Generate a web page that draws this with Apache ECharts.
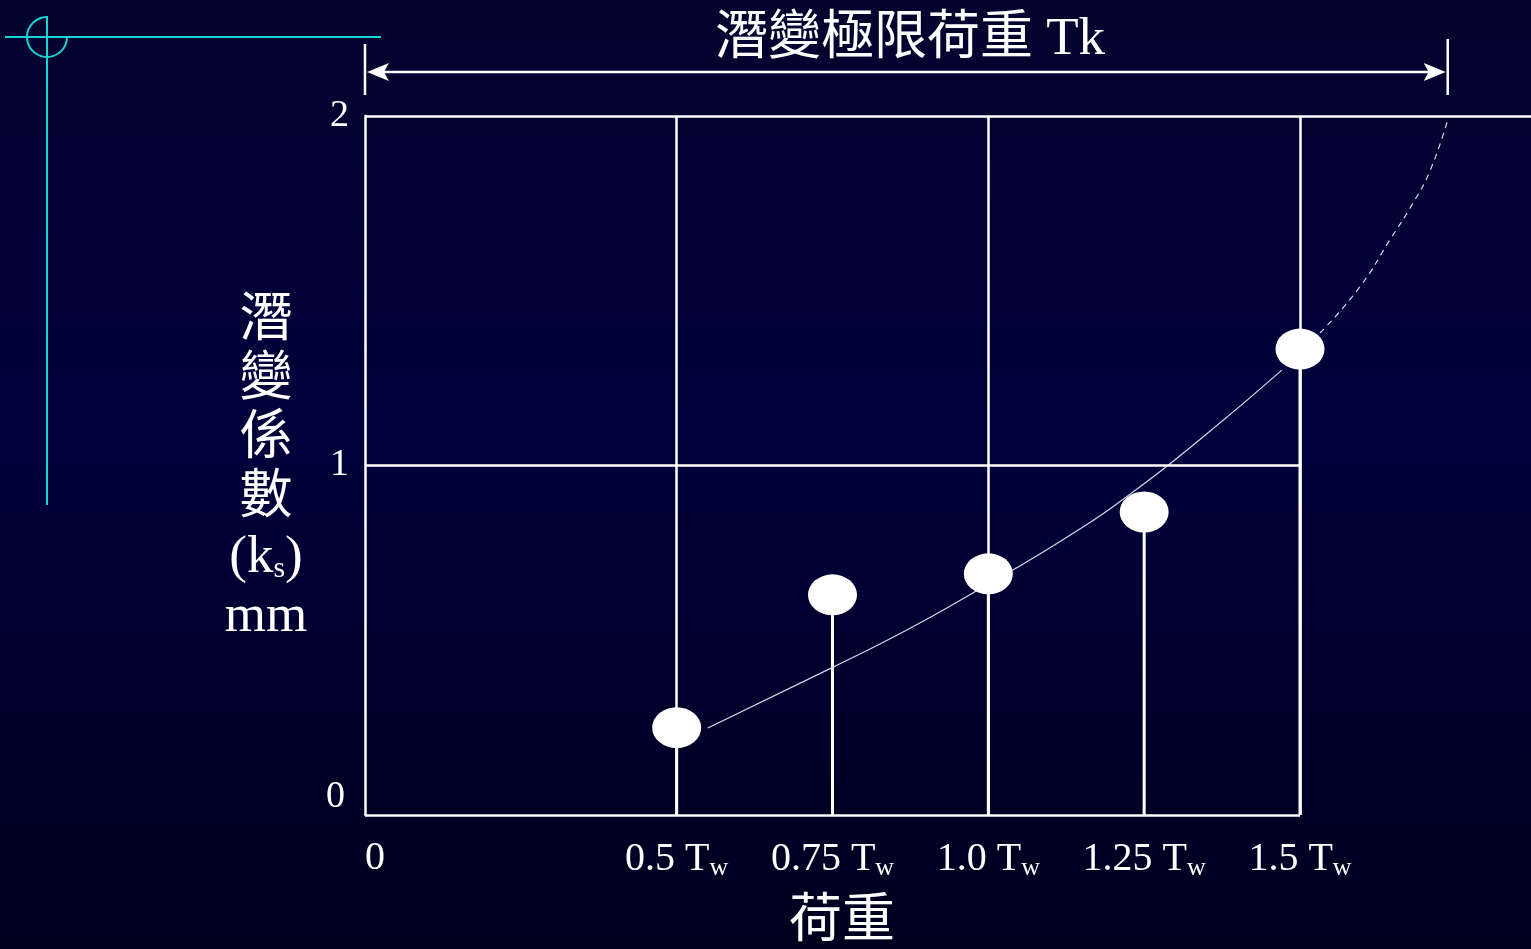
<!DOCTYPE html>
<html>
<head>
<meta charset="utf-8">
<style>
  html, body { margin: 0; padding: 0; }
  #main { width: 1531px; height: 949px; }
</style>
<script src="https://cdn.jsdelivr.net/npm/echarts@6/dist/echarts.min.js"></script>
</head>
<body>
<div id="main"></div>
<script>
// 荷重 (x Tw) 與 潛變係數 ks (mm)
var loads = [0.5, 0.75, 1.0, 1.25, 1.5];
var ks = [0.25, 0.63, 0.69, 0.867, 1.333];

// 趨勢曲線 (實線部分)
var curveSolid = [[0.55, 0.249], [0.751, 0.423], [0.87, 0.53], [0.975, 0.635], [1.126, 0.795],
  [1.232, 0.924], [1.34, 1.075], [1.471, 1.273]];
// 外插部分 (虛線)
var curveDashed = [[1.532, 1.379], [1.596, 1.511], [1.644, 1.645], [1.681, 1.75], [1.709, 1.845], [1.737, 1.989]];
// 潛變極限荷重 Tk
var tkLoad = 1.737;

var xTickVals = [0, 0.5, 0.75, 1.0, 1.25, 1.5];
var xTickText = ['0', '0.5', '0.75', '1.0', '1.25', '1.5'];
var yGridVals = [1, 2];

var SERIF = '"Liberation Serif", "Times New Roman", "Noto Sans CJK TC", serif';

// 格線區右端 (1.5 Tw) 在 1300px，畫布延伸到 1531px
var xMax = 1.5 * (1531 - 365) / (1300 - 365);
var xEnd = xTickVals[xTickVals.length - 1];

var myChart = echarts.init(document.getElementById('main'));

var white = { color: '#fff', width: 2.5, type: 'solid' };

var option = {
  backgroundColor: new echarts.graphic.LinearGradient(0, 0, 0, 1, [
    { offset: 0, color: '#04042e' },
    { offset: 0.45, color: '#00003c' },
    { offset: 1, color: '#00001e' }
  ]),
  animation: false,
  title: [
    {
      text: '潛變極限荷重 Tk',
      left: 905,
      top: 9,
      textAlign: 'center',
      textStyle: { color: '#fff', fontSize: 53, fontWeight: 'normal', fontFamily: SERIF }
    },
    {
      text: '潛\n變\n係\n數\n(k{s|s})\nmm',
      left: 261,
      top: 288,
      textAlign: 'center',
      textStyle: {
        color: '#fff', fontSize: 53, fontWeight: 'normal', fontFamily: SERIF, lineHeight: 59,
        rich: {
          s: { color: '#fff', fontSize: 30, fontFamily: SERIF, padding: [22, 0, 0, 0] }
        }
      }
    }
  ],
  grid: { left: 365, right: 0, top: 116, bottom: 134, outerBoundsMode: 'none', containLabel: false },
  xAxis: {
    type: 'value',
    min: 0,
    max: xMax,
    interval: 0.25,
    name: '荷重',
    nameLocation: 'middle',
    nameGap: 82,
    nameTextStyle: { color: '#fff', fontSize: 53, fontFamily: SERIF, padding: [0, 212, 0, 0] },
    axisLine: { show: false },
    axisTick: { show: false },
    splitLine: { show: false },
    axisLabel: {
      margin: 22,
      showMaxLabel: false,
      formatter: function (v) {
        var i = xTickVals.findIndex(function (t) { return Math.abs(t - v) < 1e-6; });
        if (i < 0) return '';
        if (i === 0) return '{z|' + xTickText[i] + '}';
        return '{n|' + xTickText[i] + ' T}{s|w}';
      },
      rich: {
        z: { color: '#fff', fontSize: 40, fontFamily: SERIF, lineHeight: 42, padding: [0, 0, 0, 20] },
        n: { color: '#fff', fontSize: 40, fontFamily: SERIF, lineHeight: 42 },
        s: { color: '#fff', fontSize: 26, fontFamily: SERIF, padding: [18, 0, 0, 0] }
      }
    }
  },
  yAxis: {
    type: 'value',
    min: 0,
    max: 2,
    interval: 1,
    axisLine: { show: true, lineStyle: white },
    axisTick: { show: false },
    splitLine: { show: false },
    axisLabel: {
      margin: 16,
      formatter: function (v) {
        return v === 0 ? '{z|0}' : '{n|' + v + '}';
      },
      rich: {
        n: { color: '#fff', fontSize: 38, fontFamily: SERIF },
        z: { color: '#fff', fontSize: 38, fontFamily: SERIF, padding: [0, 4, 36, 0] }
      }
    }
  },
  series: [
    {
      // 垂直線 (stems)
      type: 'bar',
      data: loads.map(function (x, i) { return [x, ks[i]]; }),
      barWidth: 3,
      itemStyle: { color: '#fff' },
      z: 2,
      markLine: {
        silent: true,
        symbol: ['none', 'none'],
        label: { show: false },
        lineStyle: white,
        data: [
          // 底線 與 水平格線
          [{ coord: [0, 0] }, { coord: [xEnd, 0] }],
          [{ coord: [0, yGridVals[0]] }, { coord: [xEnd, yGridVals[0]] }],
          { yAxis: yGridVals[1] },
          // 垂直格線
          { xAxis: 0.5 }, { xAxis: 1.0 }, { xAxis: xEnd }
        ]
      }
    },
    {
      type: 'line',
      data: curveSolid,
      smooth: true,
      showSymbol: false,
      lineStyle: { color: '#d8d8e8', width: 1.2 },
      z: 3
    },
    {
      type: 'line',
      data: curveDashed,
      smooth: true,
      showSymbol: false,
      lineStyle: { color: '#d8d8e8', width: 1.2, type: [6, 5] },
      z: 3
    },
    {
      type: 'scatter',
      data: loads.map(function (x, i) { return [x, ks[i]]; }),
      symbol: 'circle',
      symbolSize: [49, 41],
      itemStyle: { color: '#fff', opacity: 1 },
      z: 5
    }
  ]
};
myChart.setOption(option);

// 註記: Tk 箭頭、投影片標記
var pO = myChart.convertToPixel({ gridIndex: 0 }, [0, 2]);
var pTk = myChart.convertToPixel({ gridIndex: 0 }, [tkLoad, 2]);
var ay = pO[1] - 44;
var wl = { stroke: '#fff', lineWidth: 2.5 };
var cyan = { stroke: '#1ad4d4', lineWidth: 2 };

myChart.setOption({
  graphic: [
    { type: 'line', shape: { x1: pO[0], y1: ay - 28, x2: pO[0], y2: ay + 23 }, style: wl },
    { type: 'line', shape: { x1: pTk[0], y1: ay - 33, x2: pTk[0], y2: ay + 23 }, style: wl },
    { type: 'line', shape: { x1: pO[0] + 10, y1: ay, x2: pTk[0] - 10, y2: ay }, style: wl },
    { type: 'polygon', shape: { points: [[pO[0] + 2, ay], [pO[0] + 24, ay - 9], [pO[0] + 19, ay], [pO[0] + 24, ay + 9]] }, style: { fill: '#fff' } },
    { type: 'polygon', shape: { points: [[pTk[0] - 2, ay], [pTk[0] - 24, ay - 9], [pTk[0] - 19, ay], [pTk[0] - 24, ay + 9]] }, style: { fill: '#fff' } },
    { type: 'line', shape: { x1: 5, y1: 37, x2: 381, y2: 37 }, style: cyan },
    { type: 'line', shape: { x1: 47, y1: 16, x2: 47, y2: 505 }, style: cyan },
    { type: 'arc', shape: { cx: 47, cy: 37, r: 20, startAngle: 0, endAngle: Math.PI * 1.5, clockwise: true }, style: { stroke: '#1ad4d4', lineWidth: 2, fill: null } }
  ]
});
</script>
</body>
</html>
